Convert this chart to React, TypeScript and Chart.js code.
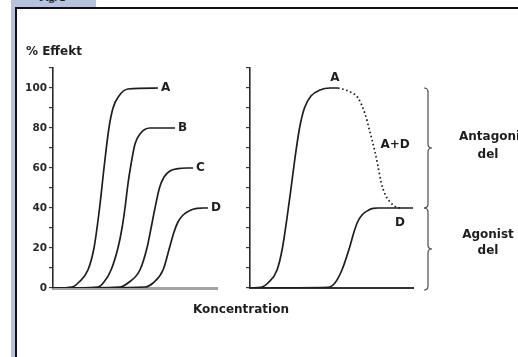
import React, { useEffect, useRef } from "react";
import { Chart, registerables } from "chart.js";

Chart.register(...registerables);

// Concentration in arbitrary units (0–10 along each axis), effect in percent.
const agonistA = [[0, 0], [1.16, 0.5], [1.59, 3], [2.13, 9], [2.5, 20], [2.84, 40], [3.11, 60], [3.41, 80], [3.66, 90], [4.02, 96], [4.57, 99.5], [6.4, 100]];
const agonistB = [[0, 0], [2.74, 0.5], [3.11, 3], [3.54, 9], [3.96, 20], [4.21, 30], [4.39, 40], [4.57, 52], [4.76, 62], [5.0, 72], [5.3, 77], [5.91, 80], [7.44, 80]];
const agonistC = [[0, 0], [4.09, 0.5], [4.57, 2.5], [5.3, 9], [5.73, 20], [5.98, 30], [6.22, 40], [6.49, 50], [6.77, 55.5], [7.13, 58.5], [7.62, 59.7], [8.17, 60], [8.54, 60]];
const agonistD = [[0, 0], [5.61, 0.5], [6.1, 2.5], [6.71, 9], [7.1, 20], [7.38, 28], [7.62, 33], [7.93, 36.5], [8.35, 38.8], [8.78, 39.8], [9.15, 40], [9.45, 40]];

const fullA = [[0, 0], [0.74, 0.5], [1.1, 2.5], [1.66, 9], [1.99, 20], [2.27, 35], [2.52, 50], [2.76, 65], [3.04, 80], [3.34, 90], [3.74, 96], [4.29, 99], [4.91, 100], [5.4, 100]];
const combinedAD = [[5.4, 100], [6.01, 98.5], [6.63, 95], [7.06, 87], [7.36, 78], [7.67, 68], [7.85, 61], [8.04, 53], [8.28, 47], [8.59, 43], [9.02, 40.3], [9.33, 40]];
const partialD = [[0, 0], [4.79, 0.3], [5.21, 2.5], [5.64, 9], [6.1, 20], [6.38, 28], [6.6, 33], [6.87, 36.5], [7.24, 38.8], [7.55, 39.8], [7.85, 40], [10, 40]];

const curveNames = ["A", "B", "C", "D"];
const labelledTicks = [0, 20, 40, 60, 80, 100];
const yMax = 110;
const xMax = 10;

const FONT = "'DejaVu Sans', sans-serif";
const INK = "#1e1e1e";

const toPoints = (arr: number[][]) => arr.map(([x, y]) => ({ x, y }));

// Draws text notes and curly braces given in data coordinates.
const notesPlugin = {
  id: "notes",
  afterDraw(chart: any, _args: any, opts: any) {
    const { ctx, scales } = chart;
    const xs = scales.x;
    const ys = scales.y;
    ctx.save();
    ctx.fillStyle = INK;
    ctx.textBaseline = "middle";
    for (const n of opts.items || []) {
      ctx.font = `bold ${n.size || 12}px ${FONT}`;
      ctx.textAlign = n.align || "center";
      ctx.fillText(n.text, xs.getPixelForValue(n.x) + (n.dx || 0), ys.getPixelForValue(n.y) + (n.dy || 0));
    }
    ctx.strokeStyle = "#4a4a4a";
    ctx.lineWidth = 1.2;
    for (const b of opts.braces || []) {
      const x = xs.getPixelForValue(b.x);
      const y1 = ys.getPixelForValue(b.from);
      const y2 = ys.getPixelForValue(b.to);
      const m = (y1 + y2) / 2;
      const h = 4;
      ctx.beginPath();
      ctx.moveTo(x - h, y1);
      ctx.quadraticCurveTo(x, y1, x, y1 + h);
      ctx.lineTo(x, m - h);
      ctx.quadraticCurveTo(x, m, x + h, m);
      ctx.quadraticCurveTo(x, m, x, m + h);
      ctx.lineTo(x, y2 - h);
      ctx.quadraticCurveTo(x, y2, x - h, y2);
      ctx.stroke();
    }
    ctx.restore();
  },
};

function lineSet(data: number[][], dashed = false) {
  return {
    data: toPoints(data),
    borderColor: INK,
    borderWidth: 1.7,
    borderDash: dashed ? [1.6, 2.6] : [],
    pointRadius: 0,
    fill: false,
    cubicInterpolationMode: "monotone" as const,
  };
}

function axes(withLabels: boolean, yWidth: number, baseColor: string, baseWidth: number) {
  return {
    x: {
      type: "linear" as const,
      min: 0,
      max: xMax,
      ticks: { display: false },
      grid: { display: false },
      border: { display: true, color: baseColor, width: baseWidth },
      afterFit: (s: any) => { s.height = 6; },
    },
    y: {
      type: "linear" as const,
      min: 0,
      max: yMax,
      afterBuildTicks: (s: any) => {
        const t = [];
        for (let v = 0; v <= yMax; v += 10) t.push({ value: v });
        s.ticks = t;
      },
      ticks: {
        autoSkip: false,
        padding: 2,
        color: "#2a2a2a",
        font: { family: FONT, size: 10.5, weight: "bold" as const },
        callback: (v: any) => (withLabels && labelledTicks.includes(Number(v)) ? String(v) : ""),
      },
      grid: { display: true, drawOnChartArea: false, drawTicks: true, tickLength: 4, color: "#3a3a3a", lineWidth: 1.2 },
      border: { display: true, color: "#2a2a2a", width: 1.6 },
      afterFit: (s: any) => { s.width = yWidth; },
    },
  };
}

function lastPoint(arr: number[][]) {
  return arr[arr.length - 1];
}

export default function App() {
  const leftRef = useRef<HTMLCanvasElement>(null);
  const rightRef = useRef<HTMLCanvasElement>(null);

  useEffect(() => {
    const leftSeries = [agonistA, agonistB, agonistC, agonistD];
    const left = new Chart(leftRef.current!, {
      type: "line",
      data: { datasets: leftSeries.map((s) => lineSet(s)) },
      plugins: [notesPlugin],
      options: {
        responsive: false,
        animation: false,
        layout: { padding: { left: 23, top: 68, right: 301, bottom: 63 } },
        scales: axes(true, 30, "#a3a3a3", 3),
        plugins: {
          legend: { display: false },
          tooltip: { enabled: false },
          notes: {
            items: [
              ...leftSeries.map((s, i) => ({
                text: curveNames[i],
                x: lastPoint(s)[0],
                y: lastPoint(s)[1],
                dx: 3,
                align: "left",
              })),
              { text: "% Effekt", x: -1.65, y: 118, align: "left", size: 12 },
              { text: "Koncentration", x: 11.46, y: -11, align: "center" },
            ],
          },
        } as any,
      },
    });

    const right = new Chart(rightRef.current!, {
      type: "line",
      data: { datasets: [lineSet(fullA), lineSet(combinedAD, true), lineSet(partialD)] },
      plugins: [notesPlugin],
      options: {
        responsive: false,
        animation: false,
        layout: { padding: { left: 242, top: 68, right: 105, bottom: 63 } },
        scales: axes(false, 8, "#333333", 2),
        plugins: {
          legend: { display: false },
          tooltip: { enabled: false },
          notes: {
            items: [
              { text: "A", x: 5.21, y: 105 },
              { text: "A+D", x: 8.9, y: 71.5 },
              { text: "D", x: 9.2, y: 32.5 },
              { text: "Antagonist", x: 12.82, y: 75.5, align: "left" },
              { text: "del", x: 14.6, y: 66.5 },
              { text: "Agonist", x: 14.6, y: 26.5 },
              { text: "del", x: 14.6, y: 18.5 },
            ],
            braces: [
              { x: 10.92, from: 100, to: 40 },
              { x: 10.92, from: 40, to: -1 },
            ],
          },
        } as any,
      },
    });

    return () => {
      left.destroy();
      right.destroy();
    };
  }, []);

  const canvasStyle: React.CSSProperties = { position: "absolute", left: 0, top: 0 };

  return (
    <div style={{ position: "fixed", left: 0, top: 0, width: 518, height: 357, background: "#fff", overflow: "hidden" }}>
      <div style={{ position: "absolute", left: 11, top: 0, width: 4, height: 357, background: "#b6c2de" }} />
      <div style={{ position: "absolute", left: 11, top: 0, width: 85, height: 7, background: "#b6c2de", overflow: "hidden" }}>
        <div style={{ position: "absolute", left: 28, top: -9, font: "bold 11px 'Liberation Serif', serif", color: "#222" }}>Fig. 2</div>
      </div>
      <div style={{ position: "absolute", left: 15, top: 7, width: 503, height: 1.5, background: "#111" }} />
      <div style={{ position: "absolute", left: 15, top: 7, width: 1.5, height: 350, background: "#111" }} />
      <canvas ref={leftRef} width={518} height={357} style={canvasStyle} />
      <canvas ref={rightRef} width={518} height={357} style={canvasStyle} />
    </div>
  );
}
